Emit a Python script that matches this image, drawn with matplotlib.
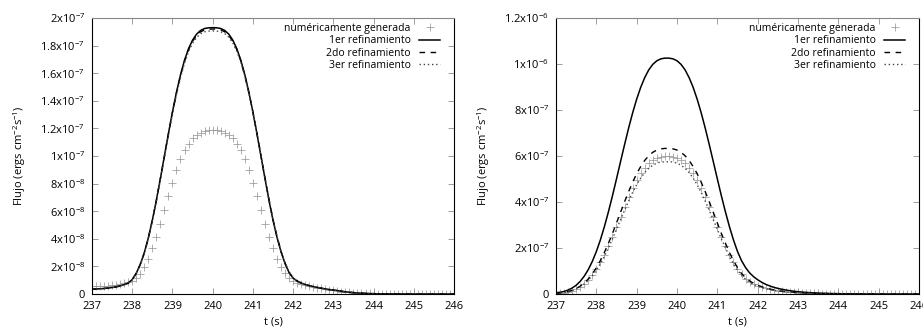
import numpy as np
import matplotlib
matplotlib.use("Agg")
import matplotlib.pyplot as plt

plt.rcParams['font.family'] = ['Open Sans', 'DejaVu Sans']
plt.rcParams['mathtext.default'] = 'regular'

# tiempo (s), muestreo cada 0.1 s
t = np.linspace(237, 246, 91)

# panel izquierdo, flujo en unidades de 1e-9
left_num = [5.5, 5.5, 5.6, 5.8, 6.0, 6.3, 6.7, 7.2, 7.8, 8.5,
            9.5, 11.5, 14.5, 19.5, 25.5, 33.0, 41.5, 51.0, 61.0, 71.0,
            80.5, 89.5, 97.5, 104.0, 109.0, 113.0, 115.5, 117.0, 118.0, 118.5,
            118.5, 118.5, 118.0, 117.0, 115.5, 113.0, 109.0, 104.0, 97.5, 89.5,
            80.5, 71.0, 61.0, 51.0, 41.5, 33.0, 25.5, 19.5, 15.0, 11.8,
            9.5, 8.0, 7.0, 6.2, 5.6, 5.0, 4.5, 4.0, 3.5, 3.0,
            2.6, 2.2, 1.8, 1.5, 1.2, 1.0, 0.8, 0.6, 0.5, 0.4,
            0.3, 0.25, 0.2, 0.15, 0.1, 0.1, 0.08, 0.06, 0.05, 0.04,
            0.03, 0.02, 0.02, 0.01, 0.01, 0, 0, 0, 0, 0,
            0]
left_r1 = [3.5, 3.6, 3.8, 4.0, 4.3, 4.7, 5.2, 5.9, 6.8, 7.9,
           10.5, 15.0, 21.5, 29.8, 40.6, 53.4, 67.9, 83.7, 100.0, 116.3,
           131.9, 146.2, 158.8, 169.4, 177.8, 184.0, 188.3, 191.0, 192.4, 192.9,
           193.0, 192.9, 192.4, 191.0, 188.3, 184.0, 177.8, 169.4, 158.8, 146.2,
           131.9, 116.3, 100.0, 83.7, 67.9, 53.4, 41.0, 30.5, 22.0, 15.5,
           11.5, 9.4, 8.0, 6.9, 6.1, 5.4, 4.8, 4.2, 3.7, 3.2,
           3.0, 2.5, 2.0, 1.6, 1.3, 1.0, 0.8, 0.6, 0.45, 0.35,
           0.25, 0.2, 0.15, 0.1, 0.08, 0.06, 0.05, 0.04, 0.03, 0.02,
           0.02, 0.01, 0.01, 0, 0, 0, 0, 0, 0, 0,
           0]
left_r2 = [3.5, 3.6, 3.8, 4.0, 4.3, 4.7, 5.2, 5.9, 6.8, 7.9,
           10.5, 15.0, 21.4, 29.7, 40.5, 53.3, 67.8, 83.6, 99.8, 116.0,
           131.5, 145.7, 158.2, 168.7, 177.0, 183.1, 187.4, 190.0, 191.4, 191.9,
           192.0, 191.9, 191.4, 190.0, 187.4, 183.2, 177.1, 168.9, 158.5, 146.1,
           132.0, 116.6, 100.5, 84.3, 68.5, 54.0, 41.5, 30.9, 22.4, 15.8,
           11.6, 9.4, 8.0, 6.9, 6.1, 5.4, 4.8, 4.2, 3.7, 3.2,
           3.0, 2.5, 2.0, 1.6, 1.3, 1.0, 0.8, 0.6, 0.45, 0.35,
           0.25, 0.2, 0.15, 0.1, 0.08, 0.06, 0.05, 0.04, 0.03, 0.02,
           0.02, 0.01, 0.01, 0, 0, 0, 0, 0, 0, 0,
           0]
left_r3 = [3.4, 3.5, 3.7, 3.9, 4.2, 4.6, 5.1, 5.8, 6.7, 7.8,
           10.3, 14.8, 21.1, 29.4, 40.1, 52.8, 67.1, 82.8, 98.9, 115.0,
           130.4, 144.5, 156.9, 167.3, 175.6, 181.7, 185.9, 188.6, 190.0, 190.5,
           190.6, 190.5, 190.0, 188.7, 186.1, 182.0, 176.0, 168.0, 157.7, 145.4,
           131.4, 116.2, 100.4, 84.3, 68.7, 54.2, 41.7, 31.1, 22.6, 16.0,
           11.7, 9.5, 8.0, 6.9, 6.1, 5.4, 4.8, 4.2, 3.7, 3.2,
           3.0, 2.5, 2.0, 1.6, 1.3, 1.0, 0.8, 0.6, 0.45, 0.35,
           0.25, 0.2, 0.15, 0.1, 0.08, 0.06, 0.05, 0.04, 0.03, 0.02,
           0.02, 0.01, 0.01, 0, 0, 0, 0, 0, 0, 0,
           0]

# panel derecho, flujo en unidades de 1e-8
right_num = [0.3, 0.4, 0.6, 1.0, 1.5, 2.2, 3.2, 4.5, 6.2, 8.2,
             10.8, 13.7, 17.1, 20.8, 24.9, 29.2, 33.6, 37.9, 42.0, 45.9,
             49.4, 52.4, 54.9, 56.8, 58.2, 59.1, 59.6, 59.8, 59.8, 59.6,
             59.1, 58.2, 56.8, 54.9, 52.4, 49.4, 45.9, 42.0, 37.9, 33.6,
             29.2, 24.9, 20.8, 17.1, 13.7, 10.8, 8.5, 6.7, 5.4, 4.4,
             3.6, 3.0, 2.45, 2.05, 1.7, 1.43, 1.2, 1.0, 0.84, 0.7,
             0.58, 0.5, 0.41, 0.34, 0.28, 0.23, 0.19, 0.16, 0.13, 0.1,
             0.09, 0.07, 0.06, 0.05, 0.04, 0.03, 0.02, 0.02, 0.01, 0.01,
             0.01, 0, 0, 0, 0, 0, 0, 0, 0, 0,
             0]
right_r1 = [0.55, 0.75, 1.1, 1.7, 2.6, 3.8, 5.5, 7.75, 10.6, 14.15,
            18.45, 23.5, 29.3, 35.75, 42.7, 50.05, 57.55, 64.95, 72.1, 78.75,
            84.7, 89.85, 94.1, 97.45, 99.85, 101.4, 102.25, 102.55, 102.55, 102.25,
            101.4, 99.85, 97.45, 94.1, 89.85, 84.7, 78.75, 72.1, 64.95, 57.55,
            50.05, 42.7, 35.75, 29.3, 23.5, 18.5, 14.5, 11.5, 9.2, 7.5,
            6.2, 5.1, 4.2, 3.5, 2.9, 2.45, 2.05, 1.72, 1.44, 1.2,
            1.0, 0.85, 0.7, 0.58, 0.48, 0.4, 0.33, 0.27, 0.22, 0.18,
            0.15, 0.12, 0.1, 0.08, 0.06, 0.05, 0.04, 0.03, 0.02, 0.02,
            0.01, 0.01, 0.01, 0, 0, 0, 0, 0, 0, 0,
            0]
right_r2 = [0.34, 0.46, 0.68, 1.05, 1.6, 2.35, 3.4, 4.8, 6.5, 8.7,
            11.4, 14.5, 18.1, 22.1, 26.3, 30.9, 35.5, 40.1, 44.5, 48.6,
            52.3, 55.4, 58.1, 60.1, 61.6, 62.6, 63.1, 63.3, 63.3, 63.1,
            62.6, 61.6, 60.1, 58.1, 55.4, 52.3, 48.6, 44.5, 40.1, 35.5,
            30.9, 26.3, 22.1, 18.1, 14.5, 11.4, 8.9, 7.1, 5.7, 4.6,
            3.8, 3.15, 2.6, 2.15, 1.8, 1.5, 1.26, 1.06, 0.89, 0.74,
            0.62, 0.52, 0.43, 0.36, 0.3, 0.25, 0.2, 0.17, 0.14, 0.11,
            0.09, 0.07, 0.06, 0.05, 0.04, 0.03, 0.02, 0.02, 0.01, 0.01,
            0.01, 0, 0, 0, 0, 0, 0, 0, 0, 0,
            0]
right_r3 = [0.31, 0.42, 0.62, 0.95, 1.46, 2.13, 3.1, 4.35, 5.95, 7.9,
            10.35, 13.2, 16.4, 20.1, 24.0, 28.1, 32.3, 36.4, 40.4, 44.2,
            47.5, 50.4, 52.8, 54.7, 56.0, 56.9, 57.4, 57.5, 57.5, 57.4,
            56.9, 56.0, 54.7, 52.8, 50.4, 47.5, 44.2, 40.4, 36.4, 32.3,
            28.1, 24.0, 20.1, 16.4, 13.2, 10.4, 8.1, 6.45, 5.15, 4.2,
            3.5, 2.85, 2.35, 1.95, 1.63, 1.37, 1.15, 0.96, 0.81, 0.67,
            0.56, 0.48, 0.39, 0.33, 0.27, 0.22, 0.19, 0.15, 0.12, 0.1,
            0.08, 0.07, 0.06, 0.04, 0.03, 0.03, 0.02, 0.02, 0.01, 0.01,
            0.01, 0, 0, 0, 0, 0, 0, 0, 0, 0,
            0]

xticks = [237, 238, 239, 240, 241, 242, 243, 244, 245, 246]
left_yticks = [0, 2e-8, 4e-8, 6e-8, 8e-8, 1e-7, 1.2e-7, 1.4e-7, 1.6e-7, 1.8e-7, 2e-7]
left_ylabels = ['0', '2x10$^{-8}$', '4x10$^{-8}$', '6x10$^{-8}$', '8x10$^{-8}$',
                '1x10$^{-7}$', '1.2x10$^{-7}$', '1.4x10$^{-7}$', '1.6x10$^{-7}$',
                '1.8x10$^{-7}$', '2x10$^{-7}$']
right_yticks = [0, 2e-7, 4e-7, 6e-7, 8e-7, 1e-6, 1.2e-6]
right_ylabels = ['0', '2x10$^{-7}$', '4x10$^{-7}$', '6x10$^{-7}$', '8x10$^{-7}$',
                 '1x10$^{-6}$', '1.2x10$^{-6}$']

labels = ['numéricamente generada', '1er refinamiento', '2do refinamiento', '3er refinamiento']

fig = plt.figure(figsize=(9.23, 3.29), dpi=100)
ax1 = fig.add_axes([92 / 923, 35 / 329, 362 / 923, 276 / 329])
ax2 = fig.add_axes([556 / 923, 35 / 329, 363 / 923, 276 / 329])

panels = [
    (ax1, 1e-9, left_num, left_r1, left_r2, left_r3, 2e-7, left_yticks, left_ylabels),
    (ax2, 1e-8, right_num, right_r1, right_r2, right_r3, 1.2e-6, right_yticks, right_ylabels),
]

for ax, scale, num, r1, r2, r3, ymax, yt, yl in panels:
    ax.plot(t, np.array(num) * scale, linestyle='none', marker='+', ms=5.5,
            mew=0.55, color='#9a9a9a', label=labels[0])
    ax.plot(t, np.array(r1) * scale, color='black', lw=1.1, label=labels[1])
    ax.plot(t, np.array(r2) * scale, color='black', lw=1.0, dashes=(4, 4), label=labels[2])
    ax.plot(t, np.array(r3) * scale, color='#444444', lw=1.0, dashes=(1, 2), label=labels[3])

    ax.set_xlim(237, 246)
    ax.set_ylim(0, ymax)
    ax.set_xticks(xticks)
    ax.set_xticklabels([str(v) for v in xticks])
    ax.set_yticks(yt)
    ax.set_yticklabels(yl)
    ax.tick_params(direction='in', top=True, right=True, length=4, width=0.5,
                   color='#777777', labelsize=8, pad=5)
    for sp in ax.spines.values():
        sp.set_linewidth(0.8)
    ax.spines['top'].set_color('#888888')
    ax.set_xlabel('t (s)', fontsize=8, labelpad=3)
    ax.set_ylabel('Flujo (ergs cm$^{-2}$s$^{-1}$)', fontsize=8, labelpad=9)

    leg = ax.legend(loc='upper right', bbox_to_anchor=(1 - 14 / 362, 1 - 5 / 276),
                    frameon=False, markerfirst=False, fontsize=7.5, numpoints=1,
                    handlelength=2.0, handletextpad=0.8, labelspacing=0.12,
                    borderaxespad=0, borderpad=0)

fig.savefig('out.png', dpi=100)
